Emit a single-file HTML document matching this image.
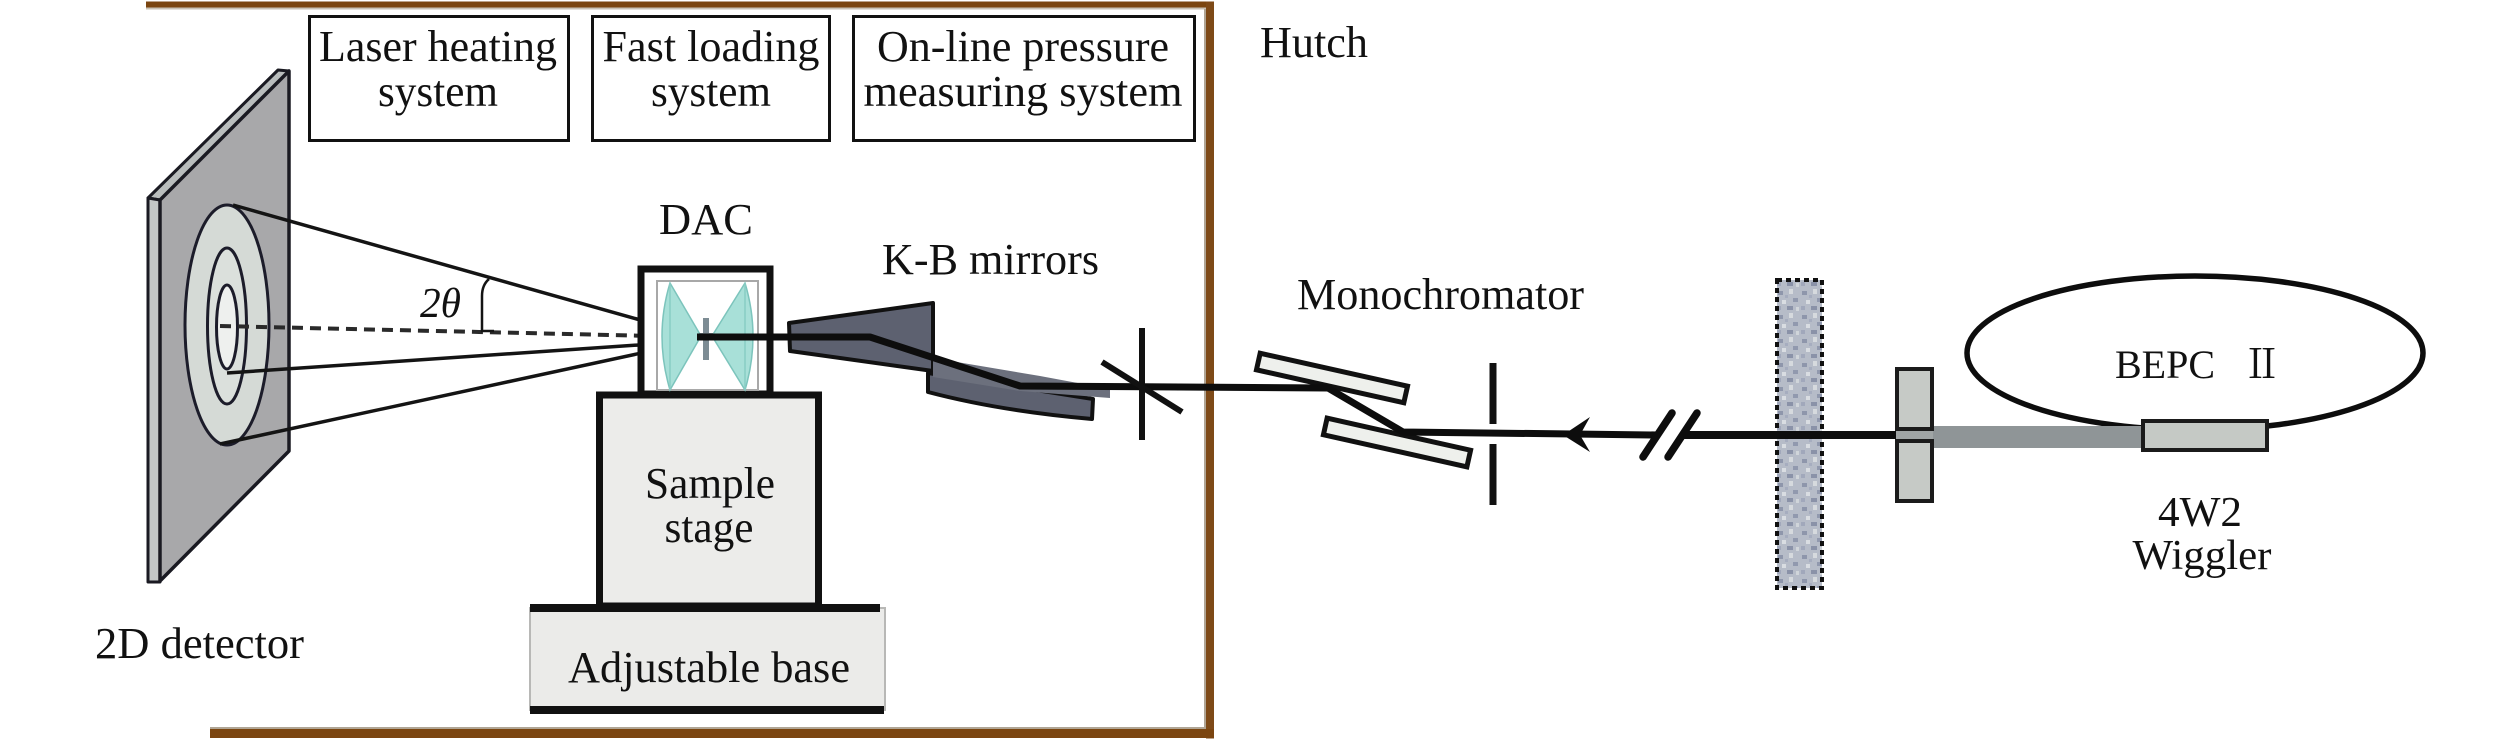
<!DOCTYPE html>
<html>
<head>
<meta charset="utf-8">
<style>
  html, body { margin: 0; padding: 0; background: #ffffff; }
  body { width: 2520px; height: 740px; overflow: hidden; }
  svg { display: block; }
  svg text { font-family: "Liberation Serif", "Tinos", "Times New Roman", "Noto Serif CJK SC", "DejaVu Serif", serif; fill: #111; }
</style>
</head>
<body>
<svg width="2520" height="740" viewBox="0 0 2520 740" xmlns="http://www.w3.org/2000/svg">
  <defs>
    <pattern id="speck" x="0" y="0" width="24" height="24" patternUnits="userSpaceOnUse">
      <rect width="24" height="24" fill="#b6bcc8"/>
      <rect x="2" y="3" width="5" height="4" fill="#8e96ab"/>
      <rect x="13" y="1" width="4" height="5" fill="#d6dade"/>
      <rect x="17" y="10" width="5" height="4" fill="#9199ae"/>
      <rect x="6" y="12" width="4" height="4" fill="#d9dde2"/>
      <rect x="1" y="18" width="4" height="4" fill="#a1a8bb"/>
      <rect x="11" y="18" width="6" height="4" fill="#8a92a8"/>
      <rect x="20" y="19" width="3" height="4" fill="#d0d5da"/>
      <rect x="9" y="7" width="3" height="3" fill="#a6adbf"/>
    </pattern>
  </defs>

  <!-- Hutch borders -->
  <rect x="146" y="1.5" width="1068" height="6" fill="#7b4510"/>
  <rect x="146" y="7.5" width="1060" height="2" fill="#c9c1b4"/>
  <rect x="1206" y="1.5" width="8" height="737" fill="#7e4a18"/>
  <rect x="1204" y="9" width="2" height="720" fill="#b0a595"/>
  <rect x="210" y="729" width="1004" height="9" fill="#7b4510"/>
  <rect x="210" y="727" width="996" height="2" fill="#b0a595"/>

  <!-- Top boxes -->
  <rect x="309.5" y="16.5" width="259" height="124" fill="#fff" stroke="#111" stroke-width="3"/>
  <rect x="592.5" y="16.5" width="237" height="124" fill="#fff" stroke="#111" stroke-width="3"/>
  <rect x="853.5" y="16.5" width="341" height="124" fill="#fff" stroke="#111" stroke-width="3"/>
  <text x="438" y="61" font-size="44" text-anchor="middle" textLength="238" lengthAdjust="spacingAndGlyphs">Laser heating</text>
  <text x="438" y="106" font-size="44" text-anchor="middle" textLength="120" lengthAdjust="spacingAndGlyphs">system</text>
  <text x="711" y="61" font-size="44" text-anchor="middle" textLength="217" lengthAdjust="spacingAndGlyphs">Fast loading</text>
  <text x="711" y="106" font-size="44" text-anchor="middle" textLength="120" lengthAdjust="spacingAndGlyphs">system</text>
  <text x="1023" y="61" font-size="44" text-anchor="middle" textLength="292" lengthAdjust="spacingAndGlyphs">On-line pressure</text>
  <text x="1023" y="106" font-size="44" text-anchor="middle" textLength="319" lengthAdjust="spacingAndGlyphs">measuring system</text>
  <text x="1260" y="57" font-size="44" textLength="108" lengthAdjust="spacingAndGlyphs">Hutch</text>

  <!-- Detector plate -->
  <polygon points="148,198 278,70 289,71 160,200" fill="#b9bdbd" stroke="#1a1a22" stroke-width="3" stroke-linejoin="round"/>
  <polygon points="148,198 160,200 160,582 148,582" fill="#c3c7c7" stroke="#1a1a22" stroke-width="3" stroke-linejoin="round"/>
  <polygon points="160,200 289,71 289,451 160,581" fill="#a8a8aa" stroke="#1a1a22" stroke-width="3.5" stroke-linejoin="round"/>
  <!-- rings -->
  <ellipse cx="227" cy="325" rx="42" ry="120" fill="#d5dad6" stroke="#1c1c2a" stroke-width="3"/>
  <ellipse cx="227" cy="326" rx="19.5" ry="78" fill="#dbe0dc" stroke="#1c1c2a" stroke-width="3"/>
  <ellipse cx="227" cy="327" rx="10.5" ry="42" fill="#eef0ee" stroke="#1c1c2a" stroke-width="3"/>

  <!-- Rays -->
  <line x1="233" y1="205" x2="697" y2="336" stroke="#141414" stroke-width="3.5"/>
  <line x1="227" y1="373" x2="697" y2="341" stroke="#141414" stroke-width="3.5"/>
  <line x1="220" y1="444" x2="697" y2="341" stroke="#141414" stroke-width="3.5"/>
  <line x1="220" y1="326" x2="697" y2="337" stroke="#2a2a2a" stroke-width="4" stroke-dasharray="11 7"/>
  <!-- 2theta arc -->
  <path d="M 489 279 Q 482 285 482 296 L 482 331 L 494 331" fill="none" stroke="#141414" stroke-width="2.5"/>
  <text x="420" y="317" font-size="42" font-style="italic" textLength="41" lengthAdjust="spacingAndGlyphs">2θ</text>

  <text x="95" y="658" font-size="44" textLength="209" lengthAdjust="spacingAndGlyphs">2D detector</text>

  <!-- Adjustable base -->
  <rect x="530" y="608" width="355" height="102" fill="#ebebe9" stroke="#b8b8b6" stroke-width="2"/>
  <rect x="530" y="604" width="350" height="8" fill="#111"/>
  <rect x="530" y="706" width="354" height="8" fill="#111"/>
  <text x="709" y="682" font-size="44" text-anchor="middle" textLength="282" lengthAdjust="spacingAndGlyphs">Adjustable base</text>

  <!-- Sample stage -->
  <rect x="599.5" y="395" width="219" height="211" fill="#ececea" stroke="#111" stroke-width="7"/>
  <text x="710" y="498" font-size="44" text-anchor="middle" textLength="130" lengthAdjust="spacingAndGlyphs">Sample</text>
  <text x="709" y="542" font-size="44" text-anchor="middle" textLength="89" lengthAdjust="spacingAndGlyphs">stage</text>

  <!-- DAC -->
  <text x="706" y="234" font-size="44" text-anchor="middle" textLength="94" lengthAdjust="spacingAndGlyphs">DAC</text>
  <rect x="641" y="269" width="129" height="125" fill="#fff" stroke="#111" stroke-width="7"/>
  <rect x="657" y="281" width="101" height="109" fill="#fff" stroke="#a8a8a8" stroke-width="2"/>
  <path d="M 670 283 L 701 336 L 670 390 Q 654 336 670 283 Z" fill="#a8e0d8" stroke="#7cc4bc" stroke-width="1.5"/>
  <path d="M 745 283 L 712 336 L 745 390 Q 761 336 745 283 Z" fill="#a8e0d8" stroke="#7cc4bc" stroke-width="1.5"/>
  <line x1="670" y1="283" x2="670" y2="390" stroke="#88cdc4" stroke-width="1.5"/>
  <line x1="745" y1="283" x2="745" y2="390" stroke="#88cdc4" stroke-width="1.5"/>
  <rect x="703" y="318" width="6" height="42" fill="#7d8c94"/>
  <rect x="699" y="333" width="14" height="6" fill="#7d8c94"/>

  <!-- KB mirrors -->
  <text x="882" y="274" font-size="44" textLength="217" lengthAdjust="spacingAndGlyphs">K-B mirrors</text>
  <polygon points="789,323 933,303 933,371 790,351" fill="#5d6170" stroke="#111" stroke-width="4" stroke-linejoin="round"/>
  <path d="M 928 373 L 1093 399 L 1092 419 Q 1000 411 928 392 Z" fill="#5d6170" stroke="#111" stroke-width="4" stroke-linejoin="round"/>
  <polygon points="933,358 1040,376 1110,389 1110,398 1020,391 933,377" fill="#6c707d"/>

  <!-- Monochromator crystals -->
  <text x="1297" y="309" font-size="44" textLength="287" lengthAdjust="spacingAndGlyphs">Monochromator</text>
  <g transform="translate(1332 378) rotate(12.6)">
    <rect x="-75.5" y="-8.5" width="151" height="17" fill="#eef0ec" stroke="#111" stroke-width="5"/>
  </g>
  <g transform="translate(1397 442.5) rotate(12.6)">
    <rect x="-73.5" y="-8.5" width="147" height="17" fill="#eef0ec" stroke="#111" stroke-width="5"/>
  </g>

  <!-- Beam -->
  <polyline points="697,337 870,337 1020,386 1328,388 1403,432 1657,435" fill="none" stroke="#0d0d0d" stroke-width="7" stroke-linejoin="round"/>
  <line x1="1683" y1="435" x2="1897" y2="435" stroke="#0d0d0d" stroke-width="8"/>

  <!-- Slit 1 -->
  <line x1="1142" y1="328" x2="1142" y2="440" stroke="#111" stroke-width="6"/>
  <line x1="1102" y1="362" x2="1182" y2="412" stroke="#111" stroke-width="6"/>
  <!-- Slit 2 -->
  <line x1="1493" y1="363" x2="1493" y2="424" stroke="#111" stroke-width="7"/>
  <line x1="1493" y1="444" x2="1493" y2="505" stroke="#111" stroke-width="7"/>

  <!-- Arrowhead -->
  <polygon points="1563,435 1590,417 1580,435 1590,452" fill="#0d0d0d"/>

  <!-- Break marks -->
  <line x1="1643" y1="457" x2="1672" y2="413" stroke="#0d0d0d" stroke-width="7.5" stroke-linecap="round"/>
  <line x1="1668" y1="457" x2="1697" y2="413" stroke="#0d0d0d" stroke-width="7.5" stroke-linecap="round"/>

  <!-- Shielding wall -->
  <rect x="1777" y="280" width="45" height="308" fill="url(#speck)" stroke="#111" stroke-width="4" stroke-dasharray="5 4"/>
  <line x1="1760" y1="435" x2="1897" y2="435" stroke="#0d0d0d" stroke-width="8"/>

  <!-- Storage ring -->
  <ellipse cx="2195" cy="353" rx="228" ry="77" fill="none" stroke="#0d0d0d" stroke-width="5.5"/>
  <text x="2115" y="378" font-size="40" textLength="100" lengthAdjust="spacingAndGlyphs">BEPC</text>
  <text x="2262" y="378" font-size="40" text-anchor="middle" style="font-family:'Noto Serif CJK SC','Liberation Serif',serif">Ⅱ</text>

  <!-- Pipe -->
  <rect x="1896" y="429" width="38" height="12" fill="#a0a5a5"/>
  <rect x="1933" y="426" width="210" height="22" fill="#8f9597"/>
  <!-- T element -->
  <rect x="1897" y="369" width="35" height="60" fill="#c6cac6" stroke="#1b1b1b" stroke-width="4"/>
  <rect x="1897" y="441" width="35" height="60" fill="#c6cac6" stroke="#1b1b1b" stroke-width="4"/>

  <!-- Wiggler -->
  <rect x="2143" y="421" width="124" height="29" fill="#c5c9c5" stroke="#1b1b1b" stroke-width="4"/>
  <text x="2200" y="526" font-size="42" text-anchor="middle" textLength="84" lengthAdjust="spacingAndGlyphs">4W2</text>
  <text x="2202" y="569" font-size="42" text-anchor="middle" textLength="139" lengthAdjust="spacingAndGlyphs">Wiggler</text>
</svg>
</body>
</html>
